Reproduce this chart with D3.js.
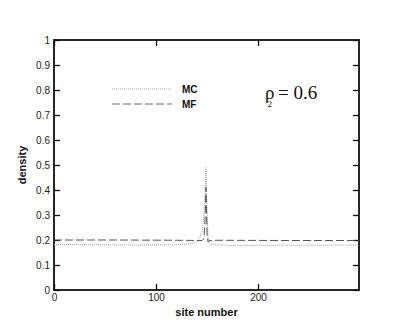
<!DOCTYPE html>
<html>
<head>
  <meta charset="utf-8">
  <script src="https://d3js.org/d3.v7.min.js"></script>
  <style>
    body { margin: 0; background: #fff; }
    svg { display: block; }
    .tick text { font-family: "Liberation Sans", Arial, sans-serif; font-size: 10px; fill: #222; }
    .axis-title { font-family: "Liberation Sans", Arial, sans-serif; font-size: 11px; font-weight: bold; fill: #111; }
    .legend-label { font-family: "Liberation Sans", Arial, sans-serif; font-size: 10px; font-weight: bold; fill: #111; }
    .rho { font-family: "Liberation Serif", "Times New Roman", serif; fill: #111; }
  </style>
</head>
<body>
  <svg id="chart" width="409" height="328"></svg>
  <script>
    // pontos (sítio, densidade)
    const mcSites   = [0, 40, 80, 120, 130, 136, 140, 143, 145, 146, 147, 148, 149, 150, 151, 152, 155, 170, 220, 299];
    const mcDensity = [0.182, 0.181, 0.180, 0.181, 0.184, 0.188, 0.195, 0.21, 0.235, 0.26, 0.30, 0.38, 0.49, 0.32, 0.21, 0.19, 0.182, 0.178, 0.179, 0.180];

    const mfSites   = [0, 60, 120, 145, 147, 148, 149, 150, 151, 152, 160, 220, 299];
    const mfDensity = [0.200, 0.200, 0.199, 0.198, 0.205, 0.27, 0.41, 0.23, 0.192, 0.197, 0.199, 0.198, 0.198];

    const xMajorTicks = [0, 100, 200];
    const yMajorTicks = [0, 0.1, 0.2, 0.3, 0.4, 0.5, 0.6, 0.7, 0.8, 0.9, 1];
    const yTickLabels = ["0", "0.1", "0.2", "0.3", "0.4", "0.5", "0.6", "0.7", "0.8", "0.9", "1"];

    const seriesNames = ["MC", "MF"];

    const margin = { left: 54, right: 50, top: 40, bottom: 38 };
    const width = 409, height = 328;

    const svg = d3.select("#chart");

    const x = d3.scaleLinear().domain([0, 299]).range([margin.left, width - margin.right]);
    const y = d3.scaleLinear().domain([0, 1]).range([height - margin.bottom, margin.top]);

    const xMinor = d3.range(0, 300, 20).filter(d => !xMajorTicks.includes(d));
    const yMinor = d3.range(0, 1.0001, 0.02).filter(d => Math.abs(Math.round(d * 10) - d * 10) > 0.01);

    // eixos com marcas para dentro
    function drawAxis(axisFn, scale, transform, major, minor, labels) {
      const g = svg.append("g").attr("transform", transform);
      g.call(axisFn(scale).tickValues(minor).tickSize(-3).tickFormat(""));
      g.call(axisFn(scale).tickValues(major).tickSize(-6).tickPadding(labels ? 4 : 0)
        .tickFormat(labels ? (d, i) => labels[i] : ""));
      g.selectAll(".domain").remove();
      g.selectAll("line").attr("stroke", "#111").attr("stroke-width", 1.3);
      return g;
    }

    drawAxis(d3.axisBottom, x, `translate(0,${y(0)})`, xMajorTicks, xMinor, xMajorTicks.map(String));
    drawAxis(d3.axisTop, x, `translate(0,${y(1)})`, xMajorTicks, xMinor, null);
    drawAxis(d3.axisLeft, y, `translate(${x(0)},0)`, yMajorTicks, yMinor, yTickLabels);
    drawAxis(d3.axisRight, y, `translate(${x(299)},0)`, yMajorTicks, yMinor, null);

    svg.append("rect")
      .attr("x", x(0)).attr("y", y(1))
      .attr("width", x(299) - x(0)).attr("height", y(0) - y(1))
      .attr("fill", "none").attr("stroke", "#111").attr("stroke-width", 1.8);

    const line = d3.line().x(d => x(d[0])).y(d => y(d[1]));

    const mcData = mcSites.map((s, i) => [s, mcDensity[i]]);
    const mfData = mfSites.map((s, i) => [s, mfDensity[i]]);

    svg.append("path").datum(mcData)
      .attr("d", line).attr("fill", "none")
      .attr("stroke", "#9a9a9a").attr("stroke-width", 1).attr("stroke-dasharray", "1,1");

    svg.append("path").datum(mfData)
      .attr("d", line).attr("fill", "none")
      .attr("stroke", "#555").attr("stroke-width", 1).attr("stroke-dasharray", "8,3");

    // legenda
    const legend = [
      { name: seriesNames[0], y: 89, stroke: "#aaa", dash: "1,1" },
      { name: seriesNames[1], y: 104, stroke: "#666", dash: "8,3" }
    ];
    legend.forEach(l => {
      svg.append("line")
        .attr("x1", 112).attr("x2", 172).attr("y1", l.y).attr("y2", l.y)
        .attr("stroke", l.stroke).attr("stroke-width", 1).attr("stroke-dasharray", l.dash);
      svg.append("text").attr("class", "legend-label")
        .attr("x", 182).attr("y", l.y + 3.5).text(l.name);
    });

    // rho_2 = 0.6
    const rho = svg.append("text").attr("class", "rho").attr("x", 265).attr("y", 99);
    rho.append("tspan").attr("font-size", 19).text("ρ");
    rho.append("tspan").attr("font-size", 9).attr("dx", -7).attr("dy", 8).text("2");
    rho.append("tspan").attr("font-size", 19).attr("dx", 6).attr("dy", -8).text("= 0.6");

    // títulos dos eixos
    svg.append("text").attr("class", "axis-title")
      .attr("x", (x(0) + x(299)) / 2).attr("y", 316)
      .attr("text-anchor", "middle").text("site number");

    svg.append("text").attr("class", "axis-title")
      .attr("transform", `translate(26,${(y(0) + y(1)) / 2}) rotate(-90)`)
      .attr("text-anchor", "middle").text("density");
  </script>
</body>
</html>
